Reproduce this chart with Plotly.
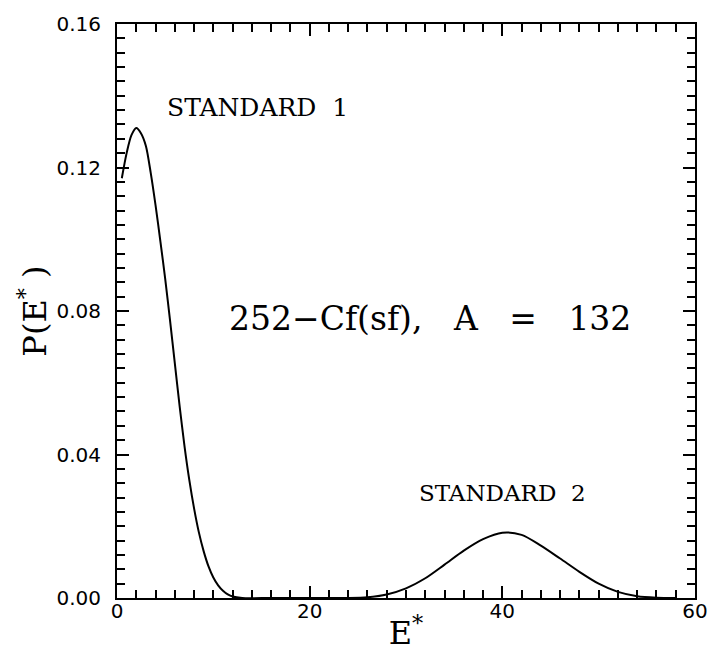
import plotly.graph_objects as go

# Excitation-energy distribution P(E*) for 252-Cf(sf), A = 132
energy = [0.5, 1.0, 1.5, 2.0, 2.5, 3.0, 3.5, 4.0, 4.5, 5.0, 5.5, 6.0, 6.5, 7.0,
          7.5, 8.0, 8.5, 9.0, 9.5, 10.0, 10.5, 11.0, 11.5, 12.0, 13.0,
          16.0, 20.0, 24.0, 26.0, 28.0, 30.0, 32.0, 34.0, 36.0, 38.0, 40.0,
          42.0, 44.0, 46.0, 48.0, 50.0, 52.0, 54.0, 56.0, 58.0]
prob = [0.117, 0.124, 0.129, 0.131, 0.1295, 0.126, 0.1185, 0.1095, 0.0995,
        0.089, 0.0775, 0.0655, 0.0535, 0.0425, 0.033, 0.025, 0.0183, 0.013,
        0.0088, 0.0057, 0.0035, 0.002, 0.001, 0.0004, 0.0,
        0.0, 0.0, 0.0, 0.0002, 0.0010, 0.0027, 0.0055, 0.0093, 0.0132, 0.0164,
        0.0182, 0.0176, 0.0146, 0.0110, 0.0073, 0.0040, 0.0017, 0.0005,
        0.0001, 0.0]

x_ticks = [0, 20, 40, 60]
y_ticks = [0.00, 0.04, 0.08, 0.12, 0.16]

SERIF = "DejaVu Serif"
SANS = "DejaVu Sans"

fig = go.Figure()
fig.add_trace(go.Scatter(
    x=energy, y=prob, mode="lines",
    line=dict(color="black", width=2, shape="spline", smoothing=0.8),
    hoverinfo="skip", showlegend=False,
))

axis_common = dict(
    showline=True, linecolor="black", linewidth=2, mirror="ticks",
    ticks="inside", ticklen=12, tickwidth=2, tickcolor="black",
    showgrid=False, zeroline=False, automargin=False,
    tickfont=dict(family=SANS, size=20, color="black"),
)

fig.update_xaxes(
    range=[0, 60], tickvals=x_ticks, ticktext=[str(v) for v in x_ticks],
    minor=dict(dtick=2, ticks="inside", ticklen=8, tickwidth=2, tickcolor="black"),
    ticklabelstandoff=-6,
    title=dict(text="E<sup>*</sup>", font=dict(family=SERIF, size=32, color="black"),
               standoff=12),
    **axis_common,
)
fig.update_yaxes(
    range=[0, 0.16], tickvals=y_ticks, ticktext=[f"{v:.2f}" for v in y_ticks],
    minor=dict(dtick=0.004, ticks="inside", ticklen=8, tickwidth=2, tickcolor="black"),
    ticklabelstandoff=10,
    title=dict(text="P(E<sup>*</sup> )", font=dict(family=SERIF, size=32, color="black"),
               standoff=0),
    **axis_common,
)

# text labels, positioned by their pixel centres
labels = [
    ("STANDARD  1", 257, 107, 25),
    ("STANDARD  2", 502, 493, 23),
    ("252\u2212Cf(sf),   A   =   132", 430, 318, 33),
]

W, H = 709, 652
L, R, T, B = 117, 14, 24, 54
pw, ph = W - L - R, H - T - B
for text, px, py, size in labels:
    fig.add_annotation(
        x=(px - L) / pw, y=1 - (py - T) / ph, xref="paper", yref="paper",
        xanchor="center", yanchor="middle", text=text, showarrow=False,
        font=dict(family=SERIF, size=size, color="black"),
    )

fig.update_layout(
    width=W, height=H,
    margin=dict(l=L, r=R, t=T, b=B, pad=0, autoexpand=False),
    paper_bgcolor="white", plot_bgcolor="white",
)

fig.write_html("out.html")
